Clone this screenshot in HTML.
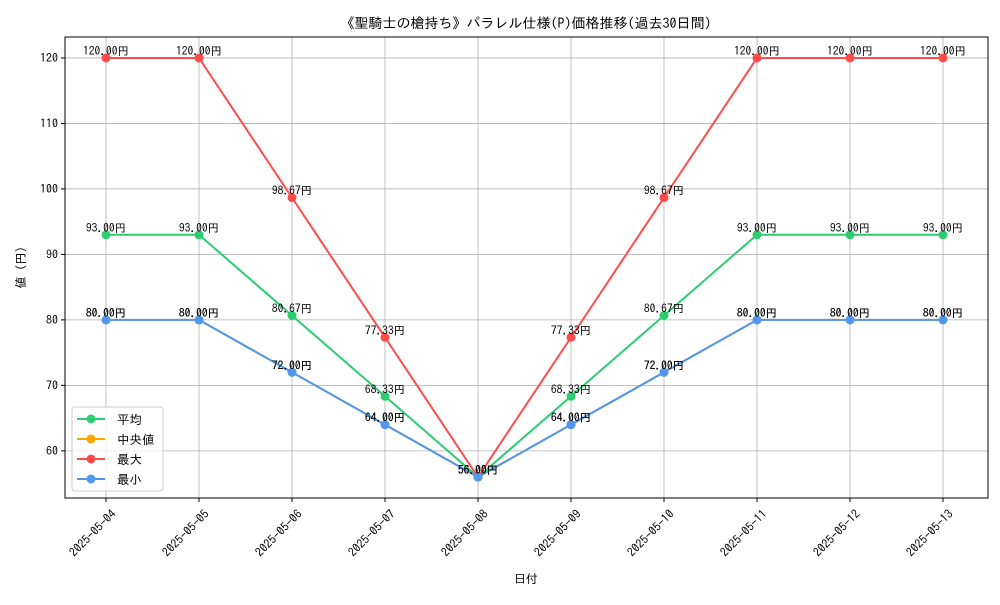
<!DOCTYPE html>
<html><head><meta charset="utf-8"><style>
body{margin:0;background:#fff;}
svg text{font-family:"IPAGothic","Liberation Sans","Noto Sans CJK JP",sans-serif;}
</style></head><body>
<svg id="c" width="1000" height="600" xmlns="http://www.w3.org/2000/svg"></svg>
<script>
const dates=["2025-05-04","2025-05-05","2025-05-06","2025-05-07","2025-05-08","2025-05-09","2025-05-10","2025-05-11","2025-05-12","2025-05-13"];
const avgVals=[93,93,80.67,68.33,56,68.33,80.67,93,93,93];
const medVals=[80,80,72,64,56,64,72,80,80,80];
const maxVals=[120,120,98.67,77.33,56,77.33,98.67,120,120,120];
const minVals=[80,80,72,64,56,64,72,80,80,80];
const yTicks=[60,70,80,90,100,110,120];
const seriesNames=["平均","中央値","最大","最小"];
const L=65,R=988,T=37,B=498,yMin=52.8,yMax=123.2;
const NS="http://www.w3.org/2000/svg",svg=document.getElementById('c');
function xS(i){return 106+i*(943-106)/(dates.length-1);}
function yS(v){return B-(v-yMin)/(yMax-yMin)*(B-T);}
function el(t,a,txt){const e=document.createElementNS(NS,t);for(const k in a)e.setAttribute(k,a[k]);if(txt!=null)e.textContent=txt;svg.appendChild(e);return e;}
// grid
dates.forEach((d,i)=>{const g=el('line',{x1:xS(i),x2:xS(i),y1:T,y2:B,stroke:'#b0b0b0','stroke-width':0.8});


const tk=el('line',{x1:xS(i),x2:xS(i),y1:B,y2:B+4,stroke:'#000'});


const t=el('text',{x:0,y:0,'font-size':12,'text-anchor':'end',transform:`translate(${xS(i)+4},${B+10}) rotate(-45)`,dy:'0.8em'},d);

});
yTicks.forEach(v=>{const g=el('line',{x1:L,x2:R,y1:yS(v),y2:yS(v),stroke:'#b0b0b0','stroke-width':0.8});


const tk=el('line',{x1:L-4,x2:L,y1:yS(v),y2:yS(v),stroke:'#000'});


const t=el('text',{x:L-7,y:yS(v)+4,'font-size':12,'text-anchor':'end'},v);

});
const ax=el('rect',{x:L,y:T,width:R-L,height:B-T,fill:'none',stroke:'#000','stroke-width':1});


const series=[[avgVals,'#2ecc71','average'],[medVals,'#ffa500','median'],[maxVals,'#ff4b4b','max'],[minVals,'#4f97ef','min']];
series.forEach(([vals,col,nm])=>{
const p=el('polyline',{points:vals.map((v,i)=>xS(i)+','+yS(v)).join(' '),fill:'none',stroke:col,'stroke-width':2});


vals.forEach((v,i)=>{const c=el('circle',{cx:xS(i),cy:yS(v),r:4.5,fill:col});


const t=el('text',{x:xS(i),y:yS(v)-3,'font-size':11.5,'text-anchor':'middle'},v.toFixed(2)+'円');

});
});
// legend
const lg=el('rect',{x:72,y:407,width:91,height:84,rx:3,fill:'#fff','fill-opacity':0.8,stroke:'#ccc'});


series.forEach(([v,col,nm],k)=>{const y=419+k*20;
const l=el('line',{x1:77,x2:105,y1:y,y2:y,stroke:col,'stroke-width':2});


const c=el('circle',{cx:91,cy:y,r:4.5,fill:col});


const t=el('text',{x:117,y:y+5,'font-size':12.5},seriesNames[k]);

});
const ti=el('text',{x:526,y:28,'font-size':14,'text-anchor':'middle'},'《聖騎士の槍持ち》パラレル仕様(P)価格推移(過去30日間)');


const xt=el('text',{x:526,y:583,'font-size':12,'text-anchor':'middle'},'日付');


const yt=el('text',{x:0,y:0,'font-size':12,'text-anchor':'middle',transform:`translate(25,${(T+B)/2}) rotate(-90)`},'値 (円)');


</script>
</body></html>
